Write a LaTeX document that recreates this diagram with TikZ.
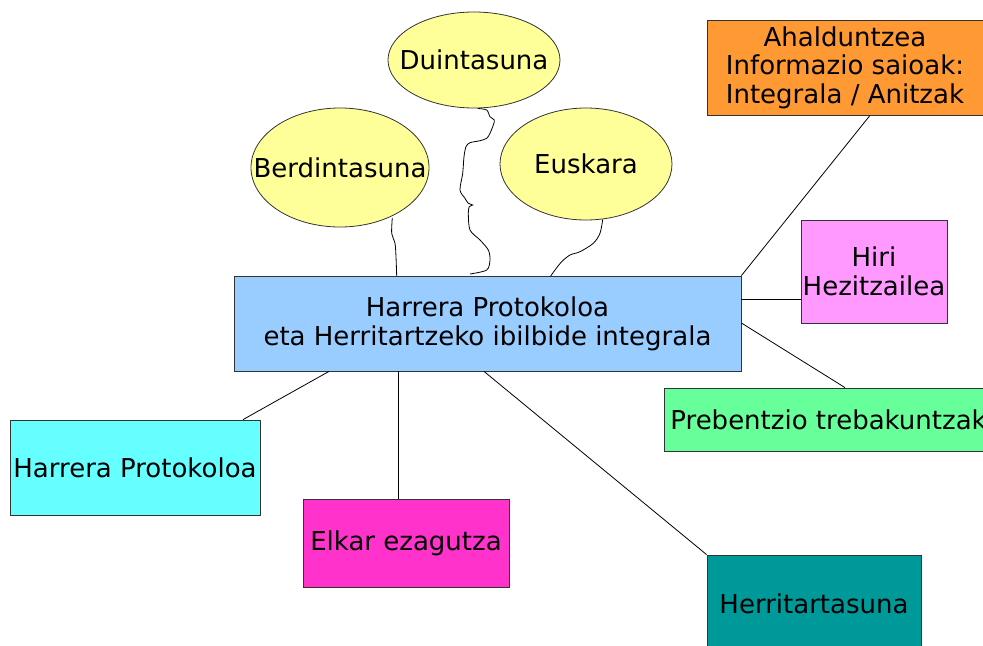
\documentclass[tikz,border=0pt]{standalone}
\usepackage{fontspec}
\setmainfont{DejaVu Sans}
\usetikzlibrary{shapes.geometric}
\definecolor{cblue}{HTML}{99CCFF}
\definecolor{cyel}{HTML}{FFFF99}
\definecolor{corange}{HTML}{FF9933}
\definecolor{cpink}{HTML}{FF99FF}
\definecolor{cgreen}{HTML}{66FF99}
\definecolor{cteal}{HTML}{009999}
\definecolor{cmag}{HTML}{FF33CC}
\definecolor{ccyan}{HTML}{66FFFF}
\begin{document}
\begin{tikzpicture}[x=0.75pt,y=-0.75pt,
  txt/.style={font=\fontsize{19.5}{21.5}\selectfont},
  box/.style={txt, draw=black!80, line width=0.6pt, align=center, inner sep=0pt},
  bub/.style={txt, ellipse, draw=black!80, fill=cyel, line width=0.6pt, inner sep=0pt},
  conn/.style={line width=0.6pt, black}]
\useasboundingbox (0,0) rectangle (983,646);
\clip (0,0) rectangle (983,646);

\node[box, fill=cblue, minimum width=507*0.75pt, minimum height=95*0.75pt] (central) at (487.5,323.5)
  {Harrera Protokoloa\\eta Herritartzeko ibilbide integrala};
\node[bub, minimum width=172*0.75pt, minimum height=96*0.75pt] (duin) at (474,60) {\makebox[0pt]{Duintasuna}};
\node[bub, minimum width=178*0.75pt, minimum height=119*0.75pt] (berd) at (340,167.5) {\makebox[0pt]{Berdintasuna}};
\node[bub, minimum width=172*0.75pt, minimum height=112*0.75pt] (eusk) at (586,164) {\makebox[0pt]{Euskara}};
\node[box, fill=corange, minimum width=276*0.75pt, minimum height=95*0.75pt] (ahal) at (845,67.5)
  {Ahalduntzea\\Informazio saioak:\\Integrala / Anitzak};
\node[box, fill=cpink, minimum width=146*0.75pt, minimum height=103*0.75pt] (hiri) at (874,271.5)
  {Hiri\\Hezitzailea};
\node[box, fill=cgreen, anchor=west, inner xsep=6*0.75pt, minimum height=63*0.75pt] (preb) at (664,419.5)
  {Prebentzio trebakuntzak};
\node[box, fill=cteal, minimum width=214*0.75pt, minimum height=98*0.75pt] (herri) at (814,604) {Herritartasuna};
\node[box, fill=cmag, minimum width=206*0.75pt, minimum height=88*0.75pt] (elkar) at (406,543) {Elkar ezagutza};
\node[box, fill=ccyan, minimum width=250*0.75pt, minimum height=95*0.75pt] (harr) at (135,467.5) {Harrera Protokoloa};

\coordinate (hy) at (0,299);
\coordinate (py) at (0,323);
\coordinate (px) at (845,0);
\coordinate (hx) at (484,0);
\coordinate (ex) at (398,0);
\coordinate (ax) at (329,0);
\coordinate (bx) at (243,0);
\coordinate (ox) at (870,0);

\draw[conn] (ahal.south -| ox) -- (central.north east);
\draw[conn] (central.east |- hy) -- (hiri.west |- hy);
\draw[conn] (central.east |- py) -- (preb.north -| px);
\draw[conn] (central.south -| hx) -- (herri.north west);
\draw[conn] (central.south -| ex) -- (elkar.north -| ex);
\draw[conn] (central.south -| ax) -- (harr.north -| bx);

\draw[conn] plot[smooth, tension=0.5] coordinates {(392.3,218) (391.7,233.3) (395,243.3) (396,256.7) (396.7,276)};
\draw[conn] plot[smooth, tension=0.5] coordinates {(477.7,108.5) (486.7,110) (490,116.7) (494.3,120) (493.3,125) (490,133.3) (486.7,138.3) (480,140.7) (470,142.7) (466,146.7) (464,156.7) (462.7,173.3) (460,190) (465,198.3) (468.3,203.3) (472.7,205) (469.3,206.7) (468.3,213.3) (470,230) (480,240) (488.3,250) (490,260) (486.7,270) (470,274)};
\draw[conn] plot[smooth, tension=0.5] coordinates {(602.7,219.5) (600,233.3) (593.3,243.3) (580,251.7) (570,255) (561.7,261.7) (555,270) (550.7,276)};
\end{tikzpicture}
\end{document}
